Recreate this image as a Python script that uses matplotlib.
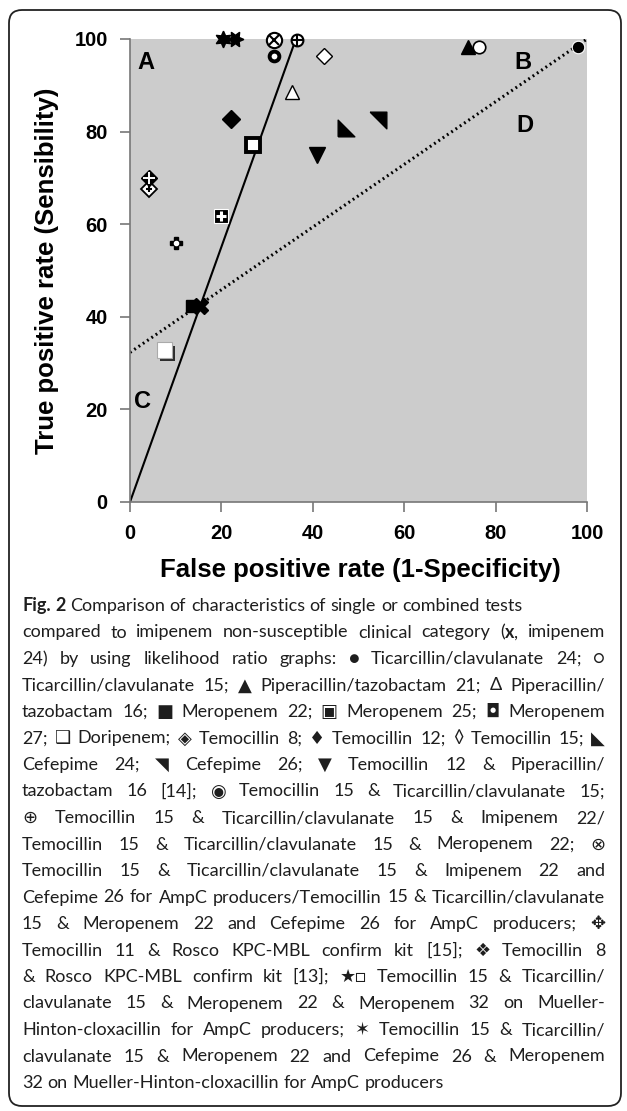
"""
Likelihood ratio graph (Fig. 2) - single / combined tests vs imipenem 24.
"""
import re
import matplotlib
matplotlib.use('Agg')
import matplotlib.pyplot as plt
import matplotlib.patheffects as pe
from matplotlib.patches import FancyBboxPatch

# ── Data (%) ──
tests = ['tic_clav_24', 'tic_clav_15', 'pip_taz_21', 'pip_taz_16',
         'mero_22', 'mero_25', 'mero_27', 'doripenem',
         'temo_8', 'temo_12', 'temo_15', 'cefepime_24', 'cefepime_26',
         'temo12_piptaz16', 'temo15_ticclav15', 'temo15_ticclav15_imi22',
         'temo15_ticclav15_imi22_cef26', 'temo11_rosco', 'temo8_rosco',
         'combo_mero32', 'combo_cef26_mero32', 'imipenem_24']
fpr = [98.1, 76.4, 73.9, 35.4,
       13.5, 19.9, 26.9, 7.5,
       4.2, 22.1, 42.5, 47.3, 54.3,
       40.9, 31.5, 36.5,
       31.5, 10.1, 4.2,
       20.4, 23.0, 15.3]
tpr = [98.2, 98.3, 98.3, 88.6,
       42.3, 61.8, 77.1, 32.8,
       67.6, 82.7, 96.3, 80.8, 82.5,
       74.9, 96.3, 99.8,
       99.8, 55.9, 70.0,
       100.0, 100.0, 42.3]

# LR+ line (origin through reference) and LR- line (through (100,100))
lr_pos_x = [0, 36.3]
lr_pos_y = [0, 100]
lr_neg_x = [0, 100]
lr_neg_y = [32.3, 100]

regions = ['A', 'B', 'C', 'D']
region_x = [3.5, 86.0, 2.8, 86.4]
region_y = [95.0, 95.0, 21.7, 81.4]

ticks = [0, 20, 40, 60, 80, 100]

caption = [
    "*Fig.* *2* Comparison of characteristics of single or combined tests",
    "compared to imipenem non-susceptible clinical category (*x*, imipenem",
    "24) by using likelihood ratio graphs: ● Ticarcillin/clavulanate 24; ○",
    "Ticarcillin/clavulanate 15; ▲ Piperacillin/tazobactam 21; Δ Piperacillin/",
    "tazobactam 16; ■ Meropenem 22; ▣ Meropenem 25; ◘ Meropenem",
    "27; ❑ Doripenem; ◈ Temocillin 8; ♦ Temocillin 12; ◊ Temocillin 15; ◣",
    "Cefepime 24; ◥ Cefepime 26; ▼ Temocillin 12 & Piperacillin/",
    "tazobactam 16 [14]; ◉ Temocillin 15 & Ticarcillin/clavulanate 15;",
    "⊕ Temocillin 15 & Ticarcillin/clavulanate 15 & Imipenem 22/",
    "Temocillin 15 & Ticarcillin/clavulanate 15 & Meropenem 22; ⊗",
    "Temocillin 15 & Ticarcillin/clavulanate 15 & Imipenem 22 and",
    "Cefepime 26 for AmpC producers/Temocillin 15 & Ticarcillin/clavulanate",
    "15 & Meropenem 22 and Cefepime 26 for AmpC producers; ✥",
    "Temocillin 11 & Rosco KPC-MBL confirm kit [15]; ❖ Temocillin 8",
    "& Rosco KPC-MBL confirm kit [13]; ★□ Temocillin 15 & Ticarcillin/",
    "clavulanate 15 & Meropenem 22 & Meropenem 32 on Mueller-",
    "Hinton-cloxacillin for AmpC producers; ✶ Temocillin 15 & Ticarcillin/",
    "clavulanate 15 & Meropenem 22 and Cefepime 26 & Meropenem",
    "32 on Mueller-Hinton-cloxacillin for AmpC producers",
]
justified = [False] + [True] * 17 + [False]

# ── Marker styles ──
TRI_LL = [(-1, -1), (-1, 1), (1, -1), (-1, -1)]   # right angle lower-left
TRI_UR = [(-1, 1), (1, 1), (1, -1), (-1, 1)]      # right angle upper-right

K, Wt = 'black', 'white'
styles = {
    'tic_clav_24': [dict(marker='o', ms=9, mfc=K, mec=Wt, mew=0.8)],
    'tic_clav_15': [dict(marker='o', ms=9, mfc=Wt, mec=K, mew=1.2)],
    'pip_taz_21': [dict(marker='^', ms=10, mfc=K, mec=K)],
    'pip_taz_16': [dict(marker='^', ms=10, mfc=Wt, mec=K, mew=1.0)],
    'mero_22': [dict(marker='s', ms=9, mfc=K, mec=K)],
    'mero_25': [dict(marker='s', ms=10, mfc=K, mec=Wt, mew=0.8),
                dict(marker='+', ms=7, mec=Wt, mew=2.2)],
    'mero_27': [dict(marker='s', ms=9.5, mfc=Wt, mec=K, mew=2.8)],
    'doripenem': [dict(marker='s', ms=11, mfc=Wt, mec='#aaaaaa', mew=0.8,
                       shadow=True)],
    'temo_8': [dict(marker='D', ms=8, mfc=Wt, mec=K, mew=1.3),
               dict(marker='+', ms=5, mec=K, mew=1.5)],
    'temo_12': [dict(marker='D', ms=9, mfc=K, mec=K)],
    'temo_15': [dict(marker='D', ms=8, mfc=Wt, mec=K, mew=1.0)],
    'cefepime_24': [dict(marker=TRI_LL, ms=12, mfc=K, mec=K)],
    'cefepime_26': [dict(marker=TRI_UR, ms=12, mfc=K, mec=K)],
    'temo12_piptaz16': [dict(marker='v', ms=12, mfc=K, mec=K)],
    'temo15_ticclav15': [dict(marker='o', ms=7, mfc=Wt, mec=K, mew=2.8)],
    'temo15_ticclav15_imi22': [dict(marker='o', ms=8.5, mfc=Wt, mec=K, mew=1.5),
                               dict(marker='+', ms=8.5, mec=K, mew=1.5)],
    'temo15_ticclav15_imi22_cef26': [dict(marker='o', ms=11, mfc=Wt, mec=K, mew=1.5),
                                     dict(marker='x', ms=6.5, mec=K, mew=1.5)],
    'temo11_rosco': [dict(marker='P', ms=9, mfc=K, mec=K),
                     dict(marker='o', ms=3, mfc=Wt, mec=Wt)],
    'temo8_rosco': [dict(marker='D', ms=8, mfc=K, mec=K),
                    dict(marker='+', ms=9, mec=Wt, mew=1.4)],
    'combo_mero32': [dict(marker=(6, 1, 0), ms=12, mfc=K, mec=K)],
    'combo_cef26_mero32': [dict(marker=(6, 1, 30), ms=12, mfc=K, mec=K)],
    'imipenem_24': [dict(marker='X', ms=11, mfc=K, mec=K)],
}

W, H, DPI = 627, 1111, 100
fig = plt.figure(figsize=(W / DPI, H / DPI), dpi=DPI)

# outer rounded frame (inches)
frame = FancyBboxPatch((9 / DPI, (H - 1106) / DPI), 612 / DPI, 1096 / DPI,
                       boxstyle='round,pad=0,rounding_size=0.13',
                       transform=fig.dpi_scale_trans, fc='none', ec='#222222',
                       lw=1.3, zorder=5)
fig.patches.append(frame)

# ── Plot ──
ax = fig.add_axes([130 / W, (H - 502) / H, 457 / W, 463 / H])
ax.set_facecolor('#cccccc')
ax.set_xlim(0, 100)
ax.set_ylim(0, 100)
for s in ['top', 'right']:
    ax.spines[s].set_visible(False)
for s in ['left', 'bottom']:
    ax.spines[s].set_color('#777777')
    ax.spines[s].set_linewidth(1.2)
ax.set_xticks(ticks)
ax.set_yticks(ticks)
ax.tick_params(direction='out', length=7, width=1.2, color='#777777', pad=9,
               labelsize=14.5)
for lab in ax.get_xticklabels() + ax.get_yticklabels():
    lab.set_fontfamily('Liberation Sans')
    lab.set_fontweight('bold')

ax.plot(lr_pos_x, lr_pos_y, color='black', lw=1.5, zorder=2)
ax.plot(lr_neg_x, lr_neg_y, color='black', lw=2.2, ls=(0, (0.6, 1.1)), zorder=2)

for name, x, y in zip(tests, fpr, tpr):
    for st in styles[name]:
        st = dict(st)
        shadow = st.pop('shadow', False)
        line, = ax.plot([x], [y], ls='none', clip_on=False, zorder=4, **st)
        if shadow:
            line.set_path_effects([pe.SimplePatchShadow(offset=(2.5, -2.5),
                                                        shadow_rgbFace='#111111',
                                                        alpha=0.85),
                                   pe.Normal()])

for lab, x, y in zip(regions, region_x, region_y):
    ax.text(x, y, lab, fontsize=17, fontweight='bold', family='Liberation Sans',
            ha='center', va='center', zorder=3)

fig.text(360 / W, 1 - 570 / H, 'False positive rate (1-Specificity)',
         fontsize=18.5, fontweight='bold', family='Liberation Sans',
         ha='center', va='center')
fig.text(47 / W, 1 - 271 / H, 'True positive rate (Sensibility)',
         fontsize=18.5, fontweight='bold', family='Liberation Sans',
         ha='center', va='center', rotation=90)

# ── Caption (justified, word by word) ──
CAP_FONT = ['Lato', 'DejaVu Sans']
left_px, right_px = 22, 605
first_base, step = 611, 26.5
renderer = fig.canvas.get_renderer()


def make_word(word):
    """Split a token into (text, bold) segments using *...* markup."""
    parts = re.split(r'(\*[^*]+\*)', word)
    segs = []
    for p in parts:
        if not p:
            continue
        if p.startswith('*') and p.endswith('*'):
            segs.append((p[1:-1], True))
        else:
            segs.append((p, False))
    return segs


def text_w(s, size, bold=False):
    t = fig.text(0, 0, s, fontsize=size, family=CAP_FONT,
                 fontweight='bold' if bold else 'normal')
    w = t.get_window_extent(renderer).width
    t.remove()
    return w


# pick a size so that the widest justified line just fits
base = 12.0
widest = max(text_w(line.replace('*', ''), base)
             for line, j in zip(caption, justified) if j)
CAP_SIZE = base * (right_px - left_px) / widest * 0.99
space_w = text_w('a a', CAP_SIZE) - text_w('aa', CAP_SIZE)

for i, line in enumerate(caption):
    y = 1 - (first_base + i * step) / H
    words = []
    for w in line.split(' '):
        texts = []
        for seg, bold in make_word(w):
            t = fig.text(0, y, seg, fontsize=CAP_SIZE, family=CAP_FONT,
                         fontweight='bold' if bold else 'normal',
                         ha='left', va='baseline', color='#1e1e1e')
            texts.append((t, t.get_window_extent(renderer).width))
        words.append(texts)
    widths = [sum(w for _, w in texts) for texts in words]
    if justified[i] and len(words) > 1:
        gap = (right_px - left_px - sum(widths)) / (len(words) - 1)
    else:
        gap = space_w
    x = left_px
    for texts, wd in zip(words, widths):
        cx = x
        for t, tw in texts:
            t.set_x(cx / W)
            cx += tw
        x += wd + gap

fig.savefig('out.png', dpi=DPI)
